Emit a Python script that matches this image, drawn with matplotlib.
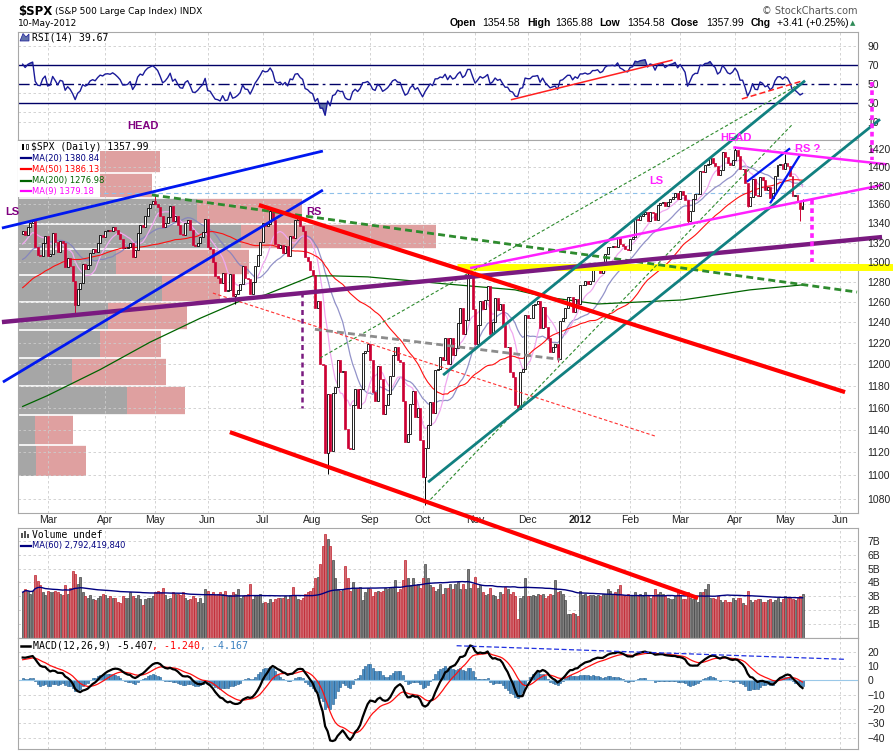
import numpy as np
import pandas as pd
import matplotlib
matplotlib.use("Agg")
import matplotlib.pyplot as plt
from matplotlib.lines import Line2D
from matplotlib.patches import Rectangle, Polygon
from matplotlib.ticker import NullLocator, NullFormatter

plt.rcParams['font.family'] = ['Liberation Sans', 'DejaVu Sans']

# 1] DATA  -  S&P 500 daily (approximate)

holidays = ["2010-11-25", "2010-12-24", "2011-01-17", "2011-02-21", "2011-04-22",
            "2011-05-30", "2011-07-04", "2011-09-05", "2011-11-24", "2011-12-26",
            "2012-01-02", "2012-01-16", "2012-02-20", "2012-04-06", "2012-05-28"]

# closes before the visible window (15-Nov-2010 .. 11-Feb-2011), only warm up the indicators
warmup_close = [1197, 1178, 1178, 1196, 1199, 1197, 1181, 1198, 1189, 1187, 1181,
                1206, 1221, 1224, 1223, 1224, 1228, 1233, 1240, 1240, 1241, 1235,
                1243, 1244, 1247, 1254, 1258, 1257, 1258, 1259, 1260, 1257, 1258,
                1272, 1270, 1276, 1274, 1272, 1270, 1275, 1286, 1284, 1293,
                1296, 1282, 1280, 1283, 1291, 1292, 1296, 1299, 1276, 1286,
                1307, 1304, 1307, 1310, 1319, 1324, 1321, 1321, 1329]

# visible closes, 14-Feb-2011 .. 30-Dec-2011
close_2011 = [1332, 1328, 1336, 1340, 1343, 1315, 1307, 1306, 1320, 1327,
              1306, 1308, 1330, 1321, 1310, 1322, 1320, 1295, 1304, 1296, 1281, 1257,
              1273, 1279, 1298, 1293, 1297, 1309, 1313, 1310, 1320, 1328, 1326,
              1332, 1333, 1332, 1336, 1333, 1329, 1324, 1314, 1314, 1315, 1320, 1305,
              1312, 1330, 1338, 1336, 1348, 1356, 1360, 1364,
              1361, 1357, 1348, 1336, 1340, 1347, 1358, 1343, 1348, 1338, 1329, 1328,
              1340, 1344, 1333, 1317, 1316, 1320, 1326, 1331, 1345,
              1315, 1313, 1300, 1286, 1284, 1279, 1289, 1271, 1272, 1288, 1266, 1268,
              1272, 1278, 1296, 1284, 1283, 1268, 1280, 1296, 1307, 1321,
              1340, 1337, 1339, 1353, 1344, 1319, 1314, 1317, 1309, 1316, 1306, 1327,
              1325, 1344, 1346, 1337, 1332, 1305, 1301, 1292,
              1287, 1254, 1261, 1200, 1199, 1119, 1172, 1121, 1173, 1179, 1204, 1193,
              1194, 1141, 1124, 1123, 1162, 1177, 1160, 1177, 1211, 1213, 1219,
              1204, 1174, 1166, 1198, 1186, 1154, 1162, 1172, 1189, 1209, 1216, 1204,
              1202, 1166, 1129, 1136, 1163, 1175, 1151, 1160, 1131,
              1099, 1124, 1144, 1165, 1155, 1195, 1196, 1207, 1204, 1225, 1200, 1225,
              1209, 1215, 1239, 1254, 1229, 1242, 1285, 1285, 1253,
              1219, 1237, 1261, 1253, 1262, 1276, 1229, 1240, 1264, 1252, 1258, 1237,
              1216, 1216, 1193, 1188, 1162, 1159, 1193, 1196, 1247,
              1244, 1244, 1257, 1258, 1261, 1235, 1255, 1236, 1225, 1212, 1216, 1219,
              1205, 1241, 1244, 1254, 1265, 1265, 1250, 1263, 1258]

# visible closes, 03-Jan-2012 .. 10-May-2012
close_2012 = [1277, 1277, 1281, 1278, 1281, 1292, 1292, 1295, 1289, 1293, 1308, 1315,
              1315, 1316, 1315, 1326, 1318, 1316, 1313, 1312,
              1324, 1326, 1345, 1344, 1348, 1350, 1352, 1343, 1352, 1351, 1344, 1359,
              1362, 1363, 1358, 1363, 1366, 1368, 1372, 1366,
              1374, 1370, 1365, 1343, 1353, 1366, 1371, 1371, 1396, 1395, 1403, 1404,
              1410, 1405, 1402, 1392, 1397, 1417, 1412, 1405, 1403, 1408,
              1419, 1413, 1398, 1398, 1383, 1358, 1368, 1387, 1370, 1369, 1390, 1386,
              1376, 1379, 1367, 1372, 1391, 1403, 1404, 1398,
              1405, 1402, 1391, 1369, 1370, 1363, 1355, 1357.99]

# daily volume, billions of shares
volume_2011 = [3.3, 3.5, 3.4, 3.2, 3.4, 4.5, 4.1, 3.8, 3.3, 3.1,
               3.4, 3.3, 3.3, 3.4, 3.3, 3.2, 3.1, 3.8, 3.2, 3.6, 4.8, 4.6, 3.9, 4.4,
               3.3, 3.0, 2.9, 3.1, 2.8, 2.7, 2.9, 3.0, 3.2,
               3.1, 2.9, 3.0, 2.9, 2.9, 2.6, 2.5, 3.0, 2.9, 2.9, 3.3, 3.0, 2.9, 3.1,
               2.8, 2.4, 2.8, 2.9, 2.9, 3.0,
               3.3, 3.4, 3.3, 3.6, 3.1, 2.8, 2.9, 3.3, 3.2, 3.2, 3.1, 3.3, 2.9, 2.7,
               2.8, 3.0, 2.9, 2.6, 2.9, 2.5, 3.5,
               3.4, 3.2, 3.3, 3.1, 3.2, 3.3, 3.2, 3.4, 3.0, 3.1, 3.3, 3.2, 3.5, 2.9,
               3.0, 3.1, 3.2, 3.9, 2.8, 3.0, 3.1, 3.2,
               2.5, 2.6, 2.5, 2.8, 2.6, 2.8, 2.9, 2.9, 2.9, 3.0, 2.8, 3.1, 3.7, 3.0,
               2.8, 2.7, 2.9, 3.2, 3.3, 3.4,
               3.6, 4.3, 4.4, 5.3, 6.6, 7.5, 7.1, 6.6, 5.6, 4.3, 3.5, 3.4, 3.5, 5.2,
               4.3, 3.4, 4.0, 3.6, 3.6, 3.7, 2.7, 3.3, 3.6,
               3.5, 3.0, 3.3, 3.4, 3.3, 3.4, 3.6, 3.5, 3.7, 3.6, 4.2, 3.3, 3.5, 4.2,
               5.6, 4.3, 3.8, 4.3, 3.8, 3.9, 3.6,
               4.3, 5.3, 4.3, 3.8, 3.7, 3.4, 3.5, 3.9, 3.2, 3.6, 3.6, 3.9, 3.5, 3.9,
               4.0, 3.5, 3.9, 3.5, 5.0, 3.6, 3.9,
               4.4, 3.6, 3.8, 3.3, 3.1, 3.2, 3.6, 3.1, 3.0, 2.8, 3.3, 3.2, 3.7, 3.5,
               3.2, 3.3, 3.0, 1.4, 2.9, 3.0, 4.3,
               3.0, 3.0, 3.1, 3.0, 3.2, 3.1, 3.2, 2.9, 3.0, 3.2, 3.1, 4.2, 3.3, 3.4,
               3.2, 2.7, 1.7, 1.7, 1.8, 1.7, 1.6]

volume_2012 = [3.4, 3.1, 3.2, 3.0, 3.1, 3.1, 3.0, 3.1, 3.0, 3.2, 3.2, 3.5, 3.4, 3.2,
               3.3, 3.5, 3.8, 3.1, 3.0, 3.2,
               3.1, 3.1, 3.3, 3.0, 3.2, 3.0, 3.3, 3.0, 2.9, 3.0, 3.5, 3.2, 3.3, 3.2,
               3.0, 2.9, 2.8, 2.8, 3.0, 3.3,
               3.1, 2.8, 2.8, 3.3, 2.9, 2.8, 2.8, 2.6, 3.3, 3.3, 3.5, 3.9, 2.9, 2.9,
               2.8, 3.0, 2.7, 2.6, 2.7, 2.6, 2.6, 2.9,
               2.7, 2.9, 2.9, 2.5, 2.4, 3.4, 2.7, 2.6, 2.7, 2.8, 2.8, 2.6, 2.6, 2.7,
               2.8, 2.6, 2.7, 2.9, 2.6, 2.8,
               3.0, 2.9, 2.9, 2.8, 2.7, 2.9, 3.0, 3.2]

# a few intraday extremes that stick out of the bodies
wick_low_dates = ["2011-03-16", "2011-06-16", "2011-08-09", "2011-10-04", "2011-11-25",
                  "2011-12-19", "2012-03-06", "2012-04-10", "2012-05-09"]
wick_lows = [1249, 1258, 1101, 1075, 1158, 1202, 1340, 1357, 1343]
wick_high_dates = ["2011-02-18", "2011-05-02", "2011-07-07", "2011-10-27", "2012-04-02",
                   "2012-05-01", "2012-05-10"]
wick_highs = [1344, 1371, 1356, 1293, 1422, 1415, 1366]

# MA(200) (not enough history here to compute it)
ma200_dates = ["2011-02-14", "2011-03-01", "2011-03-30", "2011-04-28", "2011-05-26",
               "2011-06-21", "2011-07-05", "2011-08-01", "2011-08-11", "2011-08-31",
               "2011-10-14", "2011-11-23", "2011-12-12", "2012-01-12", "2012-03-02",
               "2012-04-11", "2012-05-10"]
ma200_vals = [1161, 1171, 1195, 1221, 1244, 1262, 1267, 1286, 1286, 1285,
              1278, 1272, 1265, 1258, 1262, 1272, 1277]

# price-by-volume zones (price edges) and up / down volume per zone
pbv_edges = [1099.4, 1126.4, 1153.2, 1179.7, 1205.8, 1232.6, 1259.9, 1286.8,
             1313.3, 1339.3, 1366.9, 1393.9, 1418.1]
pbv_up = [4.5, 4.2, 27.2, 13.5, 20.5, 22.5, 36.0, 24.5, 55.8, 44.8, 20.0, 20.0]
pbv_down = [12.5, 9.5, 14.5, 23.5, 15.2, 19.8, 14.5, 33.2, 48.8, 26.2, 13.5, 15.5]

# hand drawn annotations: (trading day counted from 14-Feb-2011, price)
blue_fan = [[(-8.3, 1335.1), (120.1, 1418.1)], [(-7.9, 1183.4), (120.1, 1375.4)]]
purple_neck = [(-8.3, 1240.3), (343.8, 1325.7)]
red_channel = [[(94.5, 1359.4), (329.0, 1174.1)], [(82.9, 1137.9), (270.2, 999.2)]]
green_neck = [(51.7, 1370.1), (333.8, 1269.8)]
magenta_lines = [[(179.0, 1293.9), (343.8, 1380.8)], [(284.3, 1422.2), (345.7, 1403.4)]]
magenta_targets = [[(315.9, 1364.7), (315.9, 1300.3)], [(339.9, 1496.9), (339.9, 1408.1)]]
purple_target = [(111.7, 1269.8), (111.7, 1159.5)]
teal_channel = [[(168.2, 1189.9), (313.0, 1498.4)], [(162.2, 1094.2), (343.0, 1453.8)]]
green_thin = [[(118.9, 1205.8), (312.2, 1496.9)], [(161.6, 1076.1), (307.7, 1447.3)]]
red_thin = [(76.1, 1268.8), (253.0, 1134.4)]
gray_dash = [(116.9, 1233.3), (215.0, 1204.6)]
blue_wedge = [[(289.7, 1384.4), (307.0, 1421.1)], [(299.0, 1361.2), (311.0, 1413.7)]]
prior_high = 1372.2
support_band = [(173.8, 1294.6), (348.2, 1294.6)]
rsi_trends = [[(195.6, 33.3), (259.7, 74.8)], [(287.7, 34.0), (311.7, 52.8)]]
macd_trend = [(173.6, 24.2), (329.0, 14.7)]

# pattern labels: (text, trading day, price)
purple_labels = [("LS", -4.0, 1352), ("HEAD", 48.3, 1446), ("RS", 116.7, 1352)]
magenta_labels = [("LS", 253.6, 1385), ("HEAD", 285.2, 1433), ("RS ?", 314.2, 1420)]

price_ticks = list(range(1080, 1421, 20))
rsi_ticks = [10, 30, 50, 70, 90]
vol_ticks = [1, 2, 3, 4, 5, 6, 7]
macd_ticks = [-40, -30, -20, -10, 0, 10, 20]

# 2] SERIES + INDICATORS

cal = pd.bdate_range("2010-11-15", "2012-06-29", freq="C", holidays=holidays)
s = pd.Series(warmup_close + close_2011 + close_2012, dtype=float)
n_warm = len(warmup_close)
n = len(s)
assert cal[n_warm] == pd.Timestamp("2011-02-14") and cal[n - 1] == pd.Timestamp("2012-05-10")


def day_of(d):
    return cal.get_loc(pd.Timestamp(d)) - n_warm


ma20 = s.rolling(20).mean()
ma50 = s.rolling(50).mean()
ma9 = s.rolling(9).mean()
delta = s.diff()
gain = delta.clip(lower=0).ewm(alpha=1 / 14, adjust=False).mean()
loss = (-delta.clip(upper=0)).ewm(alpha=1 / 14, adjust=False).mean()
rsi = 100 - 100 / (1 + gain / loss)
macd = s.ewm(span=12, adjust=False).mean() - s.ewm(span=26, adjust=False).mean()
signal = macd.ewm(span=9, adjust=False).mean()
hist = macd - signal

vis = slice(n_warm, n)
x = np.arange(n - n_warm)
c = s.values[vis]
o = s.shift(1).values[vis]
vol = np.array(volume_2011 + volume_2012)
assert len(vol) == len(x)
vol_ma = pd.Series(vol).rolling(60, min_periods=1).mean()
down = c < o

# 3] FIGURE

W, H = 893, 751
fig = plt.figure(figsize=(W / 100, H / 100), dpi=100)
L, WD = 18.3 / W, 840 / W
ax_rsi = fig.add_axes([L, 1 - 140 / H, WD, 108 / H])
ax_px = fig.add_axes([L, 1 - 512.7 / H, WD, 372.7 / H])
ax_vol = fig.add_axes([L, 1 - 638 / H, WD, 110.3 / H])
ax_macd = fig.add_axes([L, 1 - 749 / H, WD, 111 / H])
ax_px.set_zorder(2)
axes = [ax_rsi, ax_px, ax_vol, ax_macd]
x_lo, x_hi = -1.75, 334.3

month_pos, month_lab = [], []
for i, d in enumerate(cal):
    if i > 0 and d.month != cal[i - 1].month:
        pos = i - n_warm
        if 5 < pos < x_hi:
            month_pos.append(pos)
            month_lab.append(str(d.year) if d.month == 1 else d.strftime("%b"))

grid_kw = dict(color="#CCCCCC", lw=0.6, ls=(0, (3, 3)), zorder=0.5)
for ax in axes:
    ax.set_xlim(x_lo, x_hi)
    for sp in ax.spines.values():
        sp.set_color("#A8A8A8")
        sp.set_linewidth(0.8)
    ax.set_xticks(month_pos)
    ax.tick_params(axis="x", length=0, labelbottom=False)
    ax.tick_params(axis="y", left=False, right=False, labelleft=False, labelright=True,
                   labelsize=7.5, pad=3, labelcolor="#222222")
    for m in month_pos:
        ax.axvline(m, **grid_kw)

# RSI panel
ax_rsi.set_ylim(-9.3, 104.6)
ax_rsi.set_yticks(rsi_ticks)
for g in [10, 20, 40, 90]:
    ax_rsi.axhline(g, **grid_kw)
r = rsi.values[vis]
ax_rsi.fill_between(x, r, 70, where=r > 70, color="#6272AA", lw=0, interpolate=True)
ax_rsi.fill_between(x, r, 30, where=r < 30, color="#6272AA", lw=0, interpolate=True)
ax_rsi.axhline(70, color="#000066", lw=1.0)
ax_rsi.axhline(30, color="#000066", lw=1.0)
ax_rsi.axhline(50, color="#000066", lw=1.0, ls=(0, (8, 3, 2, 3)))
ax_rsi.plot(x, r, color="#1A1A99", lw=1.0)
for (a, b), ls in zip(rsi_trends, ["-", (0, (4, 2))]):
    ax_rsi.plot([a[0], b[0]], [a[1], b[1]], color="#FF2020", lw=1.1, ls=ls)

# price panel
ax_px.set_yscale("log")
ax_px.set_ylim(1068.3, 1430.4)
ax_px.set_yticks(price_ticks)
ax_px.set_yticklabels([str(t) for t in price_ticks])
ax_px.yaxis.set_minor_locator(NullLocator())
ax_px.yaxis.set_minor_formatter(NullFormatter())
ax_px.yaxis.set_zorder(6)
ax_px.set_xticklabels(month_lab)
ax_px.tick_params(axis="x", labelbottom=True, labelsize=7.5, pad=2, labelcolor="#222222")
for lbl in ax_px.get_xticklabels():
    if lbl.get_text() == "2012":
        lbl.set_fontweight("bold")
for t in price_ticks:
    ax_px.axhline(t, **grid_kw)

tot = np.array(pbv_up) + np.array(pbv_down)
k = 0.4976 * (x_hi - x_lo) / tot.max()
for lo, hi, u, dn in zip(pbv_edges[:-1], pbv_edges[1:], pbv_up, pbv_down):
    ax_px.add_patch(Rectangle((x_lo, lo), u * k, hi - lo, fc="#A6A6A6", ec="none", zorder=0.3))
    ax_px.add_patch(Rectangle((x_lo + u * k, lo), dn * k, hi - lo, fc="#DFA0A0", ec="none", zorder=0.3))
ax_px.hlines(pbv_edges[1:-1], x_lo, x_lo + np.maximum(tot[:-1], tot[1:]) * k,
             color="white", lw=1.2, zorder=0.4)

ax_px.axhline(prior_high, color="#8EC0EA", lw=0.8, ls=(0, (4, 3)), zorder=1)
ax_px.plot(x, ma20.values[vis], color="#8080C0", lw=0.9, alpha=0.85, zorder=1.5)
ax_px.plot(x, ma9.values[vis], color="#F0A8F0", lw=0.9, zorder=1.5)
ax_px.plot(x, ma50.values[vis], color="#FF1010", lw=0.8, zorder=1.6)
ax_px.plot([day_of(d) for d in ma200_dates], ma200_vals, color="#006400", lw=0.9, zorder=1.6)

for d, lo in zip(wick_low_dates, wick_lows):
    i = day_of(d)
    ax_px.vlines(i, lo, min(o[i], c[i]), color="#CC0033" if down[i] else "black", lw=0.7, zorder=2)
for d, hi in zip(wick_high_dates, wick_highs):
    i = day_of(d)
    ax_px.vlines(i, max(o[i], c[i]), hi, color="#CC0033" if down[i] else "black", lw=0.7, zorder=2)
ax_px.bar(x[~down], (c - o)[~down], bottom=o[~down], width=0.75, facecolor="white",
          edgecolor="black", linewidth=0.6, zorder=2.2)
ax_px.bar(x[down], (o - c)[down], bottom=c[down], width=0.75, facecolor="#CC0033",
          edgecolor="#CC0033", linewidth=0.5, zorder=2.2)


def seg(ax, p, **kw):
    ax.plot([p[0][0], p[1][0]], [p[0][1], p[1][1]], clip_on=False, solid_capstyle="butt", **kw)


seg(ax_px, support_band, color="#FFFF00", lw=5, zorder=2.6)
for p in green_thin:
    seg(ax_px, p, color="#2E8B2E", lw=0.8, ls=(0, (3, 2)), zorder=3)
seg(ax_px, red_thin, color="#FF3030", lw=0.8, ls=(0, (3, 2)), zorder=3)
seg(ax_px, gray_dash, color="#8C8C8C", lw=2.0, ls=(0, (2.5, 1.5)), zorder=3)
seg(ax_px, green_neck, color="#2E8B2E", lw=2.0, ls=(0, (2.5, 1.5)), zorder=3)
for p in blue_fan:
    seg(ax_px, p, color="#0018F0", lw=2.0, zorder=3.2)
for p in blue_wedge:
    seg(ax_px, p, color="#0018F0", lw=1.6, zorder=3.2)
seg(ax_px, purple_neck, color="#7A1A80", lw=3.2, zorder=3.1)
for p in red_channel:
    seg(ax_px, p, color="#FF0000", lw=3.0, zorder=3.3)
for p in teal_channel:
    seg(ax_px, p, color="#118080", lw=2.0, zorder=3.2)
for p in magenta_lines:
    seg(ax_px, p, color="#FF20FF", lw=1.8, zorder=3.2)
for p in magenta_targets:
    seg(ax_px, p, color="#FF20FF", lw=2.6, ls=(0, (1.3, 1.0)), zorder=3.2)
seg(ax_px, purple_target, color="#7A1A80", lw=1.8, ls=(0, (2, 1.5)), zorder=3.2)

for txt, i, p in purple_labels:
    ax_px.text(i, p, txt, color="#800080", fontsize=8, fontweight="bold", ha="center",
               va="center", zorder=4)
for txt, i, p in magenta_labels:
    ax_px.text(i, p, txt, color="#FF20FF", fontsize=8, fontweight="bold", ha="center",
               va="center", zorder=4)

# legend box in the price panel
ax_px.add_patch(Rectangle((L, 1 - 197 / H), (100 - 18.3) / W, 56 / H, transform=fig.transFigure,
                          fc="white", ec="none", zorder=4.5, clip_on=False))
ax_px.text(31 / W, 1 - 146.7 / H, "$SPX (Daily) 1357.99", transform=fig.transFigure,
           family="DejaVu Sans Mono", fontsize=7, va="center", zorder=5)
ax_px.add_patch(Rectangle((22 / W, 1 - 150 / H), 2.2 / W, 6 / H, transform=fig.transFigure,
                          fc="black", zorder=5, clip_on=False))
ax_px.add_patch(Rectangle((25.5 / W, 1 - 149 / H), 2.2 / W, 5 / H, transform=fig.transFigure,
                          fc="white", ec="black", lw=0.5, zorder=5, clip_on=False))
ma_legend = [("MA(20) 1380.84", "#000080", 158.3), ("MA(50) 1386.13", "#FF0000", 169.3),
             ("MA(200) 1276.98", "#006400", 180.7), ("MA(9) 1379.18", "#FF00FF", 191.0)]
for txt, col, yy in ma_legend:
    ax_px.add_line(Line2D([21 / W, 31 / W], [1 - yy / H] * 2, transform=fig.transFigure,
                          color=col, lw=1.6, zorder=5, clip_on=False))
    ax_px.text(32 / W, 1 - yy / H, txt, transform=fig.transFigure, family="DejaVu Sans",
               fontsize=6, color=col, va="center", zorder=5)

# volume panel
ax_vol.set_ylim(0, 7.94)
ax_vol.set_yticks(vol_ticks)
ax_vol.set_yticklabels([f"{v}B" for v in vol_ticks])
for t in vol_ticks:
    ax_vol.axhline(t, **grid_kw)
ax_vol.bar(x[~down], vol[~down], width=0.8, facecolor="#7F7F7F", edgecolor="#444444",
           linewidth=0.5, zorder=2)
ax_vol.bar(x[down], vol[down], width=0.8, facecolor="#D06A72", edgecolor="#C0202A",
           linewidth=0.5, zorder=2)
ax_vol.plot(x, vol_ma, color="#000080", lw=1.0, zorder=3)

# MACD panel
ax_macd.set_ylim(-48.0, 29.6)
ax_macd.set_yticks(macd_ticks)
for t in macd_ticks:
    ax_macd.axhline(t, **grid_kw)
ax_macd.bar(x, hist.values[vis], width=0.8, facecolor="#4A90C8", edgecolor="#1F5A8C",
            linewidth=0.4, zorder=2)
ax_macd.axhline(0, color="#9AC8E8", lw=0.8, zorder=2.1)
ax_macd.plot(x, signal.values[vis], color="#FF1010", lw=0.9, zorder=3)
ax_macd.plot(x, macd.values[vis], color="black", lw=1.6, zorder=3.1)
seg(ax_macd, macd_trend, color="#2030E0", lw=0.9, ls=(0, (4, 2)), zorder=3.2)

# 4] TEXT AROUND THE PANELS


def put(px, py, txt, **kw):
    fig.text(px / W, 1 - py / H, txt, va="center", **kw)


put(18, 11, "$SPX", family="DejaVu Sans", fontsize=8.5, fontweight="bold")
put(55, 11, "(S&P 500 Large Cap Index) INDX", family="DejaVu Sans", fontsize=6.5)
put(18, 23.5, "10-May-2012", family="DejaVu Sans", fontsize=6.5)
put(858, 11, "\u00a9 StockCharts.com", family="DejaVu Sans", fontsize=7, color="#555555",
    ha="right")
ohlc = [(450, "Open", True), (482, "1354.58", False), (527, "High", True),
        (555, "1365.88", False), (599, "Low", True), (627, "1354.58", False),
        (671, "Close", True), (706, "1357.99", False), (751, "Chg", True),
        (777, "+3.41 (+0.25%)", False)]
for px, txt, bold in ohlc:
    put(px, 23.5, txt, fontsize=7.5, fontweight="bold" if bold else "normal")
put(850, 23.5, "\u25b2", family="DejaVu Sans", fontsize=5, color="#2E8B57")

fig.add_artist(Polygon([[20 / W, 1 - 41 / H], [23 / W, 1 - 33.5 / H], [26 / W, 1 - 37 / H],
                        [29 / W, 1 - 34 / H], [29 / W, 1 - 41 / H]], closed=True,
                       transform=fig.transFigure, fc="#6272AA", ec="#1A1A99", lw=0.5))
put(32, 37, "RSI(14) 39.67", family="DejaVu Sans Mono", fontsize=7)

for j, hgt in enumerate([5, 7, 4]):
    fig.add_artist(Rectangle(((21 + j * 3) / W, 1 - 538 / H), 2 / W, hgt / H,
                             transform=fig.transFigure, fc="#555555"))
put(32, 534.5, "Volume undef", family="DejaVu Sans Mono", fontsize=7)
fig.add_artist(Line2D([21 / W, 31 / W], [1 - 545.5 / H] * 2, transform=fig.transFigure,
                      color="#000080", lw=1.6))
put(32, 545.5, "MA(60) 2,792,419,840", family="DejaVu Sans", fontsize=6, color="#000080")

fig.add_artist(Line2D([21 / W, 30 / W], [1 - 645.5 / H] * 2, transform=fig.transFigure,
                      color="black", lw=1.8))
put(33, 645.5, "MACD(12,26,9) -5.407", family="DejaVu Sans Mono", fontsize=7.1)
put(152, 645.5, ", -1.240", family="DejaVu Sans Mono", fontsize=7.1, color="#FF0000")
put(200, 645.5, ", -4.167", family="DejaVu Sans Mono", fontsize=7.1, color="#3A80C0")

fig.savefig("out.png", dpi=100)
